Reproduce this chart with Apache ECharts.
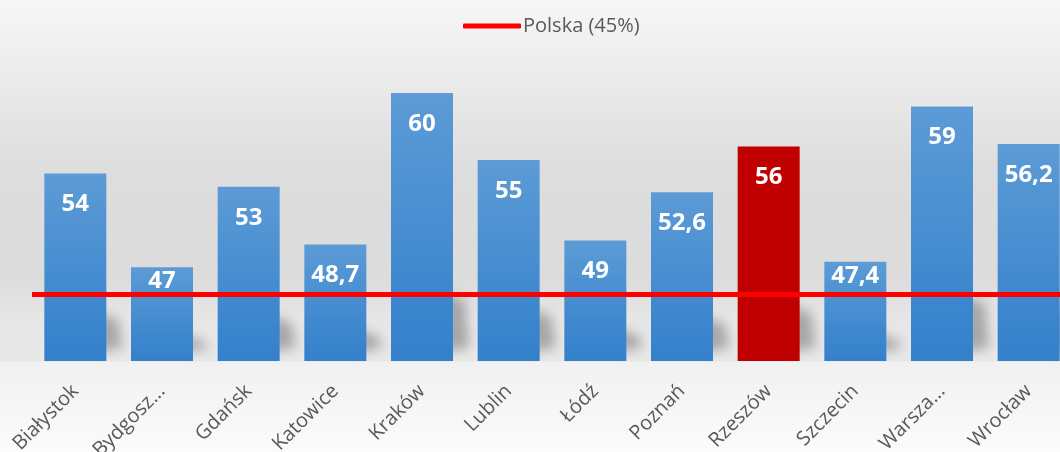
<!DOCTYPE html>
<html>
<head>
<meta charset="utf-8">
<script src="https://cdn.jsdelivr.net/npm/echarts@6/dist/echarts.min.js"></script>
<style>
  html, body { margin: 0; padding: 0; }
  #main { width: 1060px; height: 452px; }
</style>
</head>
<body>
<div id="main"></div>
<script>
var categories = ['Białystok', 'Bydgoszcz', 'Gdańsk', 'Katowice', 'Kraków', 'Lublin', 'Łódź', 'Poznań', 'Rzeszów', 'Szczecin', 'Warszawa', 'Wrocław'];
var tickLabels = ['Białystok', 'Bydgosz...', 'Gdańsk', 'Katowice', 'Kraków', 'Lublin', 'Łódź', 'Poznań', 'Rzeszów', 'Szczecin', 'Warsza...', 'Wrocław'];
var values = [54, 47, 53, 48.7, 60, 55, 49, 52.6, 56, 47.4, 59, 56.2];
var highlight = 'Rzeszów';
var polskaName = 'Polska (45%)';
var polska = 45;
var yMin = 40, yMax = 65;

var blueGrad = new echarts.graphic.LinearGradient(0, 0, 0, 1, [
	{ offset: 0, color: '#5c9bd6' },
	{ offset: 1, color: '#3380cb' }
]);

var barData = values.map(function (v, i) {
	var item = { value: v, itemStyle: { color: blueGrad } };
	if (categories[i] == highlight) {
		item.itemStyle = { color: '#c00000' };
	}
	// short bars: label sits close to the top so it stays above the Polska line
	if (v - polska < 3) {
		item.label = { distance: 2 };
	}
	return item;
});

var myChart = echarts.init(document.getElementById('main'));
var option = {
	backgroundColor: new echarts.graphic.LinearGradient(0, 0, 0, 1, [
		{ offset: 0, color: '#f7f7f7' },
		{ offset: 0.14, color: '#ededed' },
		{ offset: 0.38, color: '#dddddd' },
		{ offset: 0.62, color: '#dcdcdc' },
		{ offset: 0.7, color: '#e6e6e6' },
		{ offset: 0.798, color: '#e8e8e8' },
		{ offset: 0.802, color: '#f1f1f1' },
		{ offset: 1, color: '#fbfbfb' }
	]),
	textStyle: { fontFamily: 'Open Sans' },
	animation: false,
	legend: {
		top: 11,
		left: 458,
		itemWidth: 58,
		itemHeight: 5,
		textStyle: { color: '#595959', fontSize: 20, fontFamily: 'Open Sans', padding: [0, 0, 0, -3] },
		data: [{ name: polskaName, icon: 'roundRect', itemStyle: { color: '#ff0000' } }]
	},
	grid: { left: 32, right: -12, top: 26, bottom: 91, containLabel: false, outerBoundsMode: 'none' },
	xAxis: {
		type: 'category',
		data: categories,
		axisLine: { show: false },
		axisTick: { show: false },
		axisLabel: {
			rotate: 45,
			margin: 27,
			interval: 0,
			color: '#595959',
			fontSize: 20,
			formatter: function (val, idx) { return tickLabels[idx]; }
		}
	},
	yAxis: {
		type: 'value',
		min: yMin,
		max: yMax,
		show: false,
		splitLine: { show: false }
	},
	series: [
		{
			// soft perspective shadow behind each bar (only the blurred shadow is visible)
			name: 'shadow',
			type: 'custom',
			silent: true,
			z: 1,
			data: values.map(function (v, i) { return [i, v]; }),
			renderItem: function (params, api) {
				var base = api.coord([api.value(0), yMin]);
				var top = api.coord([api.value(0), api.value(1)]);
				var h = (base[1] - top[1]) * 0.24 + 4;
				var xr = base[0] + 31;
				var off = 3000;
				return {
					type: 'polygon',
					shape: {
						points: [
							[xr - 10 - off, base[1] - 9],
							[xr - 10 - off, base[1] - h],
							[xr + 12 - off, base[1] - h + 8],
							[xr + 16 - off, base[1] - 13]
						]
					},
					style: {
						fill: '#000',
						shadowColor: 'rgba(0,0,0,0.28)',
						shadowBlur: 12,
						shadowOffsetX: off,
						shadowOffsetY: 0
					}
				};
			}
		},
		{
			name: 'Miasta',
			type: 'bar',
			z: 2,
			barWidth: 62,
			data: barData,
			label: {
				show: true,
				position: 'insideTop',
				distance: 19,
				color: '#ffffff',
				fontSize: 24,
				fontWeight: 'bold',
				fontFamily: 'Open Sans',
				formatter: function (p) { return String(p.value).replace('.', ','); }
			}
		},
		{
			name: polskaName,
			type: 'line',
			z: 5,
			data: [],
			symbol: 'none',
			lineStyle: { color: '#ff0000', width: 5 },
			itemStyle: { color: '#ff0000' },
			markLine: {
				silent: true,
				symbol: ['none', 'none'],
				label: { show: false },
				lineStyle: { color: '#ff0000', width: 5, type: 'solid' },
				data: [{ yAxis: polska }]
			}
		}
	]
};
myChart.setOption(option);
</script>
</body>
</html>
